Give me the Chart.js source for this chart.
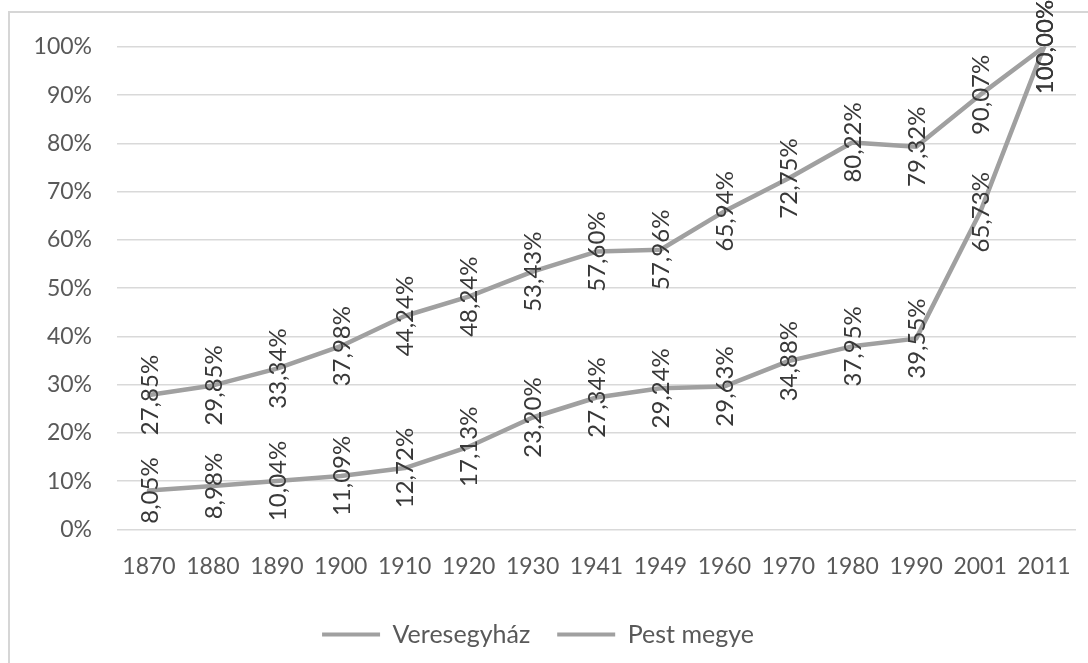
<!DOCTYPE html>
<html>
<head>
<meta charset="utf-8">
<script src="https://cdn.jsdelivr.net/npm/chart.js@4.4.1/dist/chart.umd.min.js"></script>
<style>
  html, body { margin: 0; padding: 0; background: #fff; overflow: hidden; }
  #frame { position: absolute; left: 8px; top: 11px; width: 1100px; height: 700px; border: 2px solid #d6d6d6; }
  #wrap { position: absolute; left: 0; top: 0; width: 1088px; height: 663px; }
</style>
</head>
<body>
<div id="frame"></div>
<div id="wrap"><canvas id="chart" width="1088" height="663"></canvas></div>
<script>
// years of the census
var years = ['1870', '1880', '1890', '1900', '1910', '1920', '1930', '1941', '1949', '1960', '1970', '1980', '1990', '2001', '2011'];
// population as % of 2011
var veresegyhaz = [8.05, 8.98, 10.04, 11.09, 12.72, 17.13, 23.20, 27.34, 29.24, 29.63, 34.88, 37.95, 39.55, 65.73, 100.00];
var pestMegye = [27.85, 29.85, 33.34, 37.98, 44.24, 48.24, 53.43, 57.60, 57.96, 65.94, 72.75, 80.22, 79.32, 90.07, 100.00];
var yTicks = [0, 10, 20, 30, 40, 50, 60, 70, 80, 90, 100];

var fontFamily = 'Lato, "Open Sans", sans-serif';
var lineColor = '#a0a0a0';

function pct(v) {
  return v.toFixed(2).replace('.', ',') + '%';
}

// draws the rotated value labels on every point
var valueLabels = {
  id: 'valueLabels',
  afterDatasetsDraw: function(chart) {
    var ctx = chart.ctx;
    chart.data.datasets.forEach(function(ds, i) {
      var meta = chart.getDatasetMeta(i);
      meta.data.forEach(function(pt, j) {
        ctx.save();
        ctx.translate(pt.x, pt.y);
        ctx.rotate(-Math.PI / 2);
        ctx.font = '24px ' + fontFamily;
        ctx.fillStyle = '#383838';
        ctx.textAlign = 'center';
        ctx.textBaseline = 'middle';
        ctx.fillText(pct(ds.data[j]), 0, 1);
        ctx.restore();
      });
    });
  }
};

var ctx = document.getElementById('chart').getContext('2d');
var chartObj = new Chart(ctx, {
  type: 'line',
  data: {
    labels: years,
    datasets: [
      { label: 'Veresegyház', data: veresegyhaz, borderColor: lineColor, backgroundColor: lineColor, borderWidth: 4.5, pointRadius: 0, tension: 0, borderJoinStyle: 'round', borderCapStyle: 'round' },
      { label: 'Pest megye', data: pestMegye, borderColor: lineColor, backgroundColor: lineColor, borderWidth: 4.5, pointRadius: 0, tension: 0, borderJoinStyle: 'round', borderCapStyle: 'round' }
    ]
  },
  options: {
    responsive: false,
    animation: false,
    layout: { padding: { top: 47, right: 12, left: 0, bottom: 6 } },
    plugins: {
      tooltip: { enabled: false },
      legend: {
        position: 'bottom',
        labels: {
          boxWidth: 58,
          boxHeight: 4,
          padding: 27,
          color: '#595959',
          font: { family: fontFamily, size: 25 },
          generateLabels: function(chart) {
            var items = Chart.defaults.plugins.legend.labels.generateLabels(chart);
            items.forEach(function(it) { it.lineWidth = 0; });
            return items;
          }
        }
      }
    },
    scales: {
      x: {
        offset: true,
        grid: { display: false },
        border: { display: false },
        ticks: { color: '#595959', padding: 15, maxRotation: 0, autoSkip: false, font: { family: fontFamily, size: 23 } }
      },
      y: {
        min: 0,
        max: 100,
        afterFit: function(axis) { axis.width = 117; },
        afterBuildTicks: function(axis) { axis.ticks = yTicks.map(function(v) { return { value: v }; }); },
        grid: { color: '#d9d9d9', lineWidth: 1.5, drawTicks: false },
        border: { display: false },
        ticks: {
          color: '#595959',
          padding: 25,
          font: { family: fontFamily, size: 23 },
          callback: function(v) { return v + '%'; }
        }
      }
    }
  },
  plugins: [valueLabels]
});
</script>
</body>
</html>
